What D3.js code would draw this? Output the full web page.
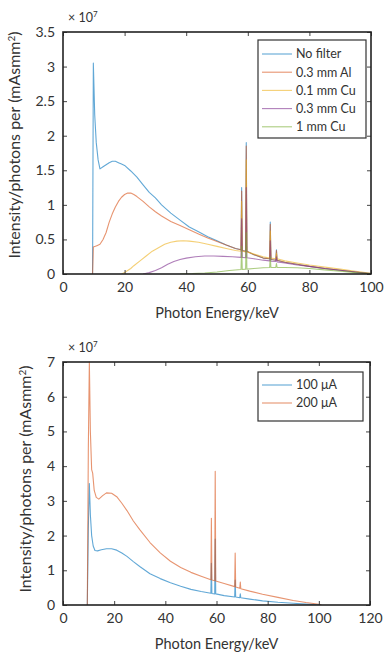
<!DOCTYPE html>
<html><head><meta charset="utf-8">
<script src="https://cdn.jsdelivr.net/npm/d3@7"></script>
<style>
body{margin:0;background:#fff;}
svg{display:block;}
text{font-family:Lato,"Open Sans",sans-serif;fill:#333;}
</style></head><body>
<div id="chart"></div>
<script>
// ---------- Top chart data (x: keV, y: ×1e7 photons per mAs mm²) ----------
const topXTicks = [0, 20, 40, 60, 80, 100];
const topYTicks = [0, 0.5, 1, 1.5, 2, 2.5, 3, 3.5];
const topNames = ["No filter", "0.3 mm Al", "0.1 mm Cu", "0.3 mm Cu", "1 mm Cu"];
const topColors = ["#0072BD", "#D95319", "#EDB120", "#7E2F8E", "#77AC30"];

const noFilter = [[9.6,0],[9.85,3.05],[10.3,2.3],[10.8,1.9],[11.4,1.65],[12,1.52],[13,1.55],[14,1.58],[15,1.61],[16,1.63],[17,1.63],[18,1.61],[19,1.59],[20,1.57],[22,1.49],[24,1.40],[26,1.29],[28,1.18],[30,1.10],[32,1.00],[35,0.88],[38,0.78],[41,0.68],[44,0.61],[47,0.54],[50,0.48],[53,0.42],[56,0.37],[57.8,0.35],[58.0,1.25],[58.2,0.34],[59.3,0.33],[59.5,1.9],[59.7,0.33],[62,0.28],[65,0.23],[67.1,0.22],[67.3,0.75],[67.5,0.21],[69.1,0.2],[69.3,0.35],[69.5,0.2],[72,0.17],[76,0.14],[80,0.11],[85,0.08],[90,0.055],[95,0.03],[100,0]];
const al03 = [[9.6,0],[9.85,0.39],[10.5,0.4],[11,0.41],[12,0.43],[13,0.5],[14,0.6],[15,0.75],[16,0.87],[17,0.97],[18,1.05],[19,1.11],[20,1.15],[21,1.17],[22,1.17],[23,1.15],[24,1.12],[26,1.05],[28,0.97],[30,0.90],[32,0.84],[35,0.76],[38,0.70],[41,0.64],[44,0.58],[47,0.52],[50,0.47],[53,0.42],[56,0.37],[57.8,0.35],[58.0,1.2],[58.2,0.34],[59.3,0.33],[59.5,1.85],[59.7,0.33],[62,0.28],[65,0.23],[67.1,0.22],[67.3,0.72],[67.5,0.21],[69.1,0.2],[69.3,0.34],[69.5,0.2],[72,0.17],[76,0.14],[80,0.11],[85,0.08],[90,0.055],[95,0.03],[100,0]];
const cu01 = [[19,0],[20,0.02],[21,0.05],[22,0.08],[23,0.12],[25,0.19],[27,0.26],[29,0.33],[31,0.38],[33,0.43],[35,0.46],[37,0.475],[39,0.48],[41,0.475],[44,0.46],[47,0.43],[50,0.40],[53,0.37],[56,0.34],[57.8,0.33],[58.0,1.05],[58.2,0.33],[59.3,0.32],[59.5,1.65],[59.7,0.32],[62,0.29],[65,0.25],[67.1,0.23],[67.3,0.62],[67.5,0.23],[69.1,0.22],[69.3,0.3],[69.5,0.22],[72,0.19],[76,0.16],[80,0.13],[85,0.10],[90,0.07],[95,0.04],[100,0.01]];
const cu03 = [[26,0],[28,0.02],[30,0.05],[32,0.09],[34,0.14],[36,0.18],[38,0.21],[40,0.23],[43,0.25],[46,0.26],[49,0.26],[52,0.255],[55,0.25],[57.8,0.24],[58.0,0.8],[58.2,0.24],[59.3,0.235],[59.5,1.25],[59.7,0.235],[62,0.22],[65,0.2],[67.1,0.19],[67.3,0.48],[67.5,0.185],[69.1,0.18],[69.3,0.25],[69.5,0.175],[72,0.16],[76,0.13],[80,0.11],[85,0.08],[90,0.055],[95,0.03],[100,0.005]];
const cu1 = [[38,0],[42,0.005],[46,0.015],[50,0.03],[54,0.05],[57.8,0.065],[58.0,0.4],[58.2,0.065],[59.3,0.07],[59.5,0.6],[59.7,0.07],[62,0.08],[65,0.09],[67.1,0.095],[67.3,0.25],[67.5,0.095],[69.1,0.095],[69.3,0.15],[69.5,0.095],[72,0.095],[76,0.09],[80,0.08],[85,0.06],[90,0.04],[95,0.02],[100,0.005]];

// ---------- Bottom chart data ----------
const botXTicks = [0, 20, 40, 60, 80, 100, 120];
const botYTicks = [0, 1, 2, 3, 4, 5, 6, 7];
const botNames = ["100 \u03BCA", "200 \u03BCA"];
const botColors = ["#0072BD", "#D95319"];
const ua100 = [[9.5,0],[9.9,2.2],[10.3,3.5],[10.7,2.6],[11.2,2.0],[11.8,1.7],[12.5,1.57],[13.5,1.56],[15,1.59],[17,1.62],[19,1.62],[21,1.58],[23,1.5],[25,1.4],[27.5,1.25],[30,1.11],[34,0.9],[38,0.76],[42,0.64],[46,0.54],[50,0.45],[54,0.39],[57.8,0.34],[58.0,1.2],[58.2,0.33],[59.3,0.32],[59.5,1.9],[59.7,0.32],[63,0.27],[67.1,0.23],[67.3,0.72],[67.5,0.23],[69.1,0.21],[69.3,0.32],[69.5,0.21],[73,0.17],[78,0.12],[84,0.08],[90,0.05],[95,0.025],[100,0.005],[101,0]];
const ua200 = [[9.5,0],[9.9,4.5],[10.3,7.0],[10.7,5.0],[11.2,3.9],[11.6,3.8],[12.2,3.3],[13,3.1],[14,3.05],[15.5,3.15],[17,3.23],[19,3.22],[21,3.12],[23,2.93],[25,2.72],[27.5,2.42],[30,2.17],[34,1.8],[38,1.5],[42,1.26],[46,1.08],[50,0.94],[54,0.83],[57.8,0.73],[58.0,2.5],[58.2,0.72],[59.3,0.7],[59.5,3.85],[59.7,0.69],[63,0.62],[67.1,0.53],[67.3,1.5],[67.5,0.52],[69.1,0.48],[69.3,0.66],[69.5,0.47],[73,0.4],[78,0.31],[84,0.22],[90,0.13],[95,0.07],[100,0.02],[101,0]];

const W = 385, H = 654;
const svg = d3.select("#chart").append("svg").attr("width", W).attr("height", H);

function panel(cfg) {
  const x = d3.scaleLinear().domain(cfg.xDomain).range([cfg.left, cfg.right]);
  const y = d3.scaleLinear().domain(cfg.yDomain).range([cfg.bottom, cfg.top]);
  const g = svg.append("g");
  const clipId = "clip" + cfg.id;
  svg.append("clipPath").attr("id", clipId).append("rect")
    .attr("x", cfg.left).attr("y", cfg.top - 1)
    .attr("width", cfg.right - cfg.left).attr("height", cfg.bottom - cfg.top + 1);

  const line = d3.line().x(d => x(d[0])).y(d => y(d[1]));
  const lines = g.append("g").attr("clip-path", `url(#${clipId})`);
  cfg.series.forEach((s, i) => {
    lines.append("path").datum(s).attr("d", line)
      .attr("fill", "none").attr("stroke", cfg.colors[i])
      .attr("stroke-width", 1.1).attr("stroke-opacity", 0.62)
      .attr("stroke-linejoin", "round");
  });

  // axes with inward ticks (MATLAB style box)
  const tl = 4;
  g.append("g").attr("transform", `translate(0,${cfg.bottom})`)
    .call(d3.axisBottom(x).tickValues(cfg.xTicks).tickSize(-tl).tickPadding(8).tickFormat(d3.format("d")))
    .call(a => a.select(".domain").remove());
  g.append("g").attr("transform", `translate(0,${cfg.top})`)
    .call(d3.axisTop(x).tickValues(cfg.xTicks).tickSize(-tl).tickFormat(""))
    .call(a => a.select(".domain").remove());
  g.append("g").attr("transform", `translate(${cfg.left},0)`)
    .call(d3.axisLeft(y).tickValues(cfg.yTicks).tickSize(-tl).tickPadding(8).tickFormat(d => String(d)))
    .call(a => a.select(".domain").remove());
  g.append("g").attr("transform", `translate(${cfg.right},0)`)
    .call(d3.axisRight(y).tickValues(cfg.yTicks).tickSize(-tl).tickFormat(""))
    .call(a => a.select(".domain").remove());
  g.selectAll(".tick line").attr("stroke", "#444");
  g.selectAll(".tick text").style("font-size", "14px").attr("fill", "#333");

  g.append("rect").attr("x", cfg.left).attr("y", cfg.top)
    .attr("width", cfg.right - cfg.left).attr("height", cfg.bottom - cfg.top)
    .attr("fill", "none").attr("stroke", "#222").attr("stroke-width", 1.6);

  // exponent label
  const ex = g.append("text").attr("x", cfg.left + 5).attr("y", cfg.top - 10)
    .style("font-size", "12.5px");
  ex.append("tspan").text("\u00D7 10");
  ex.append("tspan").attr("dy", -5).style("font-size", "8px").text("7");

  // axis titles
  g.append("text").attr("x", (cfg.left + cfg.right) / 2).attr("y", cfg.bottom + 44)
    .attr("text-anchor", "middle").style("font-size", "14.5px").text("Photon Energy/keV");
  const yl = g.append("text")
    .attr("transform", `translate(${cfg.ylabX},${cfg.ylabY}) rotate(-90)`)
    .attr("text-anchor", "middle").style("font-size", "16px");
  yl.append("tspan").text("Intensity/photons per (mAsmm");
  yl.append("tspan").attr("dy", -5).style("font-size", "10px").text("2");
  yl.append("tspan").attr("dy", 5).text(")");

  // legend
  const lg = cfg.legend;
  g.append("rect").attr("x", lg.x).attr("y", lg.y).attr("width", lg.w).attr("height", lg.h)
    .attr("fill", "#fff").attr("stroke", "#333").attr("stroke-width", 1.2);
  cfg.names.forEach((n, i) => {
    const yy = lg.y + lg.first + i * lg.step;
    g.append("line").attr("x1", lg.x + 4).attr("x2", lg.x + 34).attr("y1", yy).attr("y2", yy)
      .attr("stroke", cfg.colors[i]).attr("stroke-width", 1.1).attr("stroke-opacity", 0.62);
    g.append("text").attr("x", lg.x + 38).attr("y", yy).attr("dy", "0.35em")
      .style("font-size", "12.5px").text(n);
  });
}

panel({
  id: "top", left: 63, right: 371, top: 32, bottom: 274,
  xDomain: [0, 100], yDomain: [0, 3.5], xTicks: topXTicks, yTicks: topYTicks,
  series: [noFilter, al03, cu01, cu03, cu1], colors: topColors, names: topNames,
  ylabX: 20, ylabY: 145,
  legend: {x: 258, y: 40, w: 108, h: 98, first: 14, step: 18.2}
});

panel({
  id: "bot", left: 63, right: 370, top: 362, bottom: 605,
  xDomain: [0, 120], yDomain: [0, 7], xTicks: botXTicks, yTicks: botYTicks,
  series: [ua100, ua200], colors: botColors, names: botNames,
  ylabX: 31, ylabY: 479,
  legend: {x: 258, y: 372, w: 105, h: 49, first: 13, step: 18}
});
</script>
</body></html>
